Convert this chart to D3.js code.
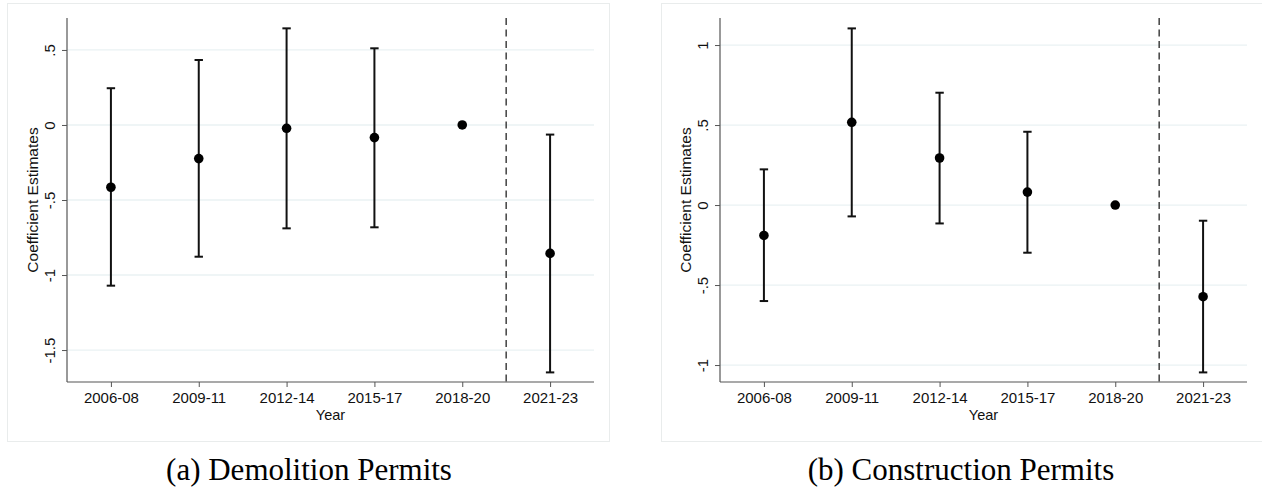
<!DOCTYPE html>
<html>
<head>
<meta charset="utf-8">
<script src="https://cdn.jsdelivr.net/npm/d3@7"></script>
<style>
  html, body { margin: 0; padding: 0; background: #fff; }
  svg { display: block; }
</style>
</head>
<body>
<svg id="chart" width="1262" height="488"></svg>
<script>
// ---------------- DATA ----------------
const categories = ["2006-08", "2009-11", "2012-14", "2015-17", "2018-20", "2021-23"];

// Panel (a) Demolition Permits
const demoEstimate = [-0.415, -0.224, -0.022, -0.084, 0, -0.856];
const demoLower    = [-1.071, -0.878, -0.689, -0.682, null, -1.649];
const demoUpper    = [ 0.245,  0.433,  0.644,  0.511, null, -0.064];
const demoTicks      = [-1.5, -1, -0.5, 0, 0.5];
const demoTickLabels = ["-1.5", "-1", "-.5", "0", ".5"];
const demoRange      = [-1.713, 0.713];

// Panel (b) Construction Permits
const consEstimate = [-0.190, 0.517, 0.294, 0.081, 0, -0.573];
const consLower    = [-0.600, -0.071, -0.115, -0.298, null, -1.046];
const consUpper    = [ 0.223,  1.104,  0.702,  0.458, null, -0.098];
const consTicks      = [-1, -0.5, 0, 0.5, 1];
const consTickLabels = ["-1", "-.5", "0", ".5", "1"];
const consRange      = [-1.106, 1.169];

const xTitle = "Year";
const yTitle = "Coefficient Estimates";
const captions = ["(a) Demolition Permits", "(b) Construction Permits"];
const cutoffBetween = ["2018-20", "2021-23"];

// ---------------- DRAW ----------------
const svg = d3.select("#chart");
const sans = "'Liberation Sans', Arial, Helvetica, sans-serif";
const serif = "'Liberation Serif', 'Times New Roman', serif";

function drawPanel(opt) {
  const g = svg.append("g");
  // outer graph region box
  g.append("rect")
    .attr("x", opt.box[0] + 0.5).attr("y", opt.box[1] + 0.5)
    .attr("width", opt.box[2] - opt.box[0]).attr("height", opt.box[3] - opt.box[1])
    .attr("fill", "none").attr("stroke", "#e9ecec").attr("stroke-width", 1);

  const x = d3.scalePoint().domain(categories).range([opt.left, opt.right]).padding(0.5);
  const y = d3.scaleLinear().domain(opt.range).range([opt.bottom, opt.top]);

  // gridlines
  g.append("g").selectAll("line").data(opt.ticks).join("line")
    .attr("x1", opt.left).attr("x2", opt.right)
    .attr("y1", d => y(d)).attr("y2", d => y(d))
    .attr("stroke", "#eaf2f3").attr("stroke-width", 1.3);

  // y axis
  const yAxis = d3.axisLeft(y).tickValues(opt.ticks)
    .tickFormat((d, i) => opt.tickLabels[i]).tickSize(5).tickSizeOuter(0);
  const ya = g.append("g").attr("transform", `translate(${opt.left},0)`).call(yAxis);
  ya.select(".domain").attr("stroke", "#555").attr("stroke-width", 1.2)
    .attr("d", `M0,${opt.top}V${opt.bottom}`);
  ya.selectAll(".tick line").attr("stroke", "#555").attr("stroke-width", 1);
  ya.selectAll(".tick text")
    .attr("font-family", sans).attr("font-size", 15).attr("fill", "#111")
    .attr("text-anchor", "middle")
    .attr("x", null).attr("dy", null)
    .attr("transform", "translate(-12.5,0) rotate(-90)");

  // x axis
  const xAxis = d3.axisBottom(x).tickSize(5).tickSizeOuter(0);
  const xa = g.append("g").attr("transform", `translate(0,${opt.bottom})`).call(xAxis);
  xa.select(".domain").attr("stroke", "#555").attr("stroke-width", 1.2)
    .attr("d", `M${opt.left},0H${opt.right}`);
  xa.selectAll(".tick line").attr("stroke", "#555").attr("stroke-width", 1);
  xa.selectAll(".tick text")
    .attr("font-family", sans).attr("font-size", 15).attr("fill", "#111")
    .attr("y", 21).attr("dy", null);

  // axis titles
  g.append("text")
    .attr("x", (opt.left + opt.right) / 2).attr("y", opt.bottom + 38)
    .attr("text-anchor", "middle").attr("font-family", sans).attr("font-size", 14.5).attr("fill", "#111")
    .text(xTitle);
  g.append("text")
    .attr("transform", `translate(${opt.left - 28.7},${(opt.top + opt.bottom) / 2}) rotate(-90)`)
    .attr("text-anchor", "middle").attr("font-family", sans).attr("font-size", 15.5).attr("fill", "#111")
    .text(yTitle);

  // dashed vertical cutoff
  const xc = (x(cutoffBetween[0]) + x(cutoffBetween[1])) / 2;
  g.append("line")
    .attr("x1", xc).attr("x2", xc).attr("y1", opt.top).attr("y2", opt.bottom)
    .attr("stroke", "#333").attr("stroke-width", 1.4).attr("stroke-dasharray", "7,4.5");

  const rows = categories.map((c, i) => ({ c, est: opt.est[i], lo: opt.lo[i], hi: opt.hi[i] }));
  const ci = rows.filter(d => d.lo !== null);

  // error bars
  g.append("g").selectAll("line").data(ci).join("line")
    .attr("x1", d => x(d.c)).attr("x2", d => x(d.c))
    .attr("y1", d => y(d.lo)).attr("y2", d => y(d.hi))
    .attr("stroke", "#111").attr("stroke-width", 2);
  const caps = ci.flatMap(d => [{ c: d.c, v: d.lo }, { c: d.c, v: d.hi }]);
  g.append("g").selectAll("line").data(caps).join("line")
    .attr("x1", d => x(d.c) - 4.2).attr("x2", d => x(d.c) + 4.2)
    .attr("y1", d => y(d.v)).attr("y2", d => y(d.v))
    .attr("stroke", "#111").attr("stroke-width", 2);

  // points
  g.append("g").selectAll("circle").data(rows).join("circle")
    .attr("cx", d => x(d.c)).attr("cy", d => y(d.est)).attr("r", 4.8)
    .attr("fill", "#000");

  // caption
  svg.append("text")
    .attr("x", opt.captionX).attr("y", 480)
    .attr("text-anchor", "middle").attr("font-family", serif).attr("font-size", 31).attr("fill", "#000")
    .text(opt.caption);
}

drawPanel({
  box: [7, 3, 609, 441],
  left: 67, right: 594, top: 18, bottom: 382,
  range: demoRange, ticks: demoTicks, tickLabels: demoTickLabels,
  est: demoEstimate, lo: demoLower, hi: demoUpper,
  caption: captions[0], captionX: 309
});
drawPanel({
  box: [661, 3, 1262, 441],
  left: 720, right: 1247, top: 18, bottom: 382,
  range: consRange, ticks: consTicks, tickLabels: consTickLabels,
  est: consEstimate, lo: consLower, hi: consUpper,
  caption: captions[1], captionX: 961
});
</script>
</body>
</html>
